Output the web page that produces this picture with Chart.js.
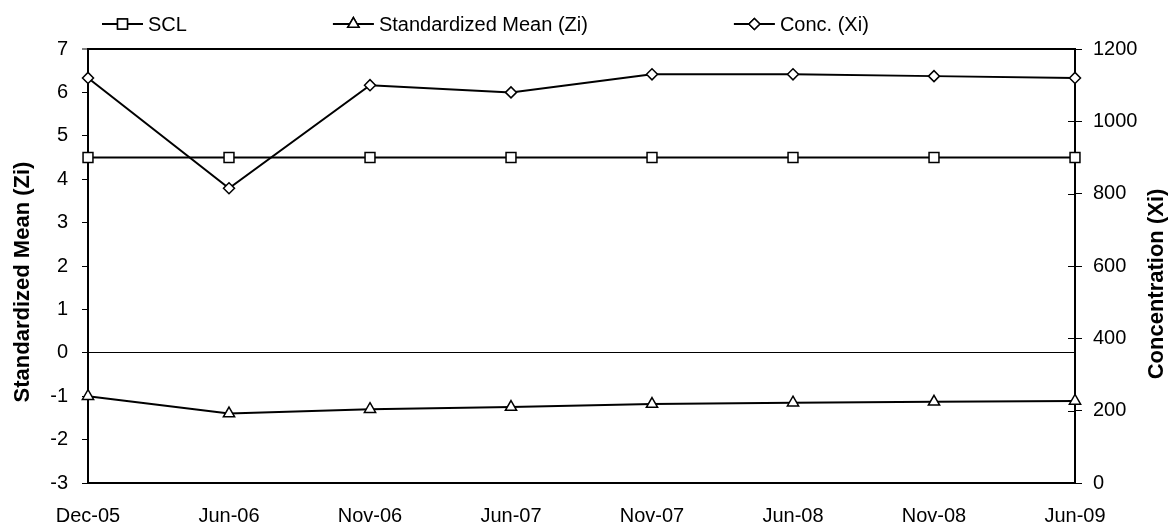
<!DOCTYPE html>
<html>
<head>
<meta charset="utf-8">
<script src="https://cdn.jsdelivr.net/npm/chart.js@4/dist/chart.umd.min.js"></script>
<style>
  html, body { margin: 0; padding: 0; background: #fff; }
  #wrap { width: 1175px; height: 529px; position: relative; }
</style>
</head>
<body>
<div id="wrap"><canvas id="c"></canvas></div>
<script>
const categories = ['Dec-05', 'Jun-06', 'Nov-06', 'Jun-07', 'Nov-07', 'Jun-08', 'Nov-08', 'Jun-09'];
const sclValues = [4.5, 4.5, 4.5, 4.5, 4.5, 4.5, 4.5, 4.5];
const ziValues = [-1.0, -1.4, -1.3, -1.25, -1.18, -1.15, -1.13, -1.11];
const xiValues = [1120, 815, 1100, 1080, 1130, 1130, 1125, 1120];
const leftAxisRange = [-3, 7];
const rightAxisRange = [0, 1200];
const seriesNames = ['SCL', 'Standardized Mean (Zi)', 'Conc. (Xi)'];
const axisTitles = ['Standardized Mean (Zi)', 'Concentration (Xi)'];

const FONT = '"Liberation Sans", Arial, Helvetica, sans-serif';

const legendPlugin = {
  id: 'lineLegend',
  afterDraw(chart) {
    const ctx = chart.ctx;
    ctx.save();
    ctx.font = '20px ' + FONT;
    ctx.textBaseline = 'middle';
    ctx.fillStyle = '#000';
    let x = 102;
    const y = 24;
    chart.data.datasets.forEach(ds => {
      ctx.strokeStyle = '#000';
      ctx.lineWidth = 2;
      ctx.beginPath();
      ctx.moveTo(x, y);
      ctx.lineTo(x + 41, y);
      ctx.stroke();
      ctx.fillStyle = '#fff';
      ctx.lineWidth = ds.pointBorderWidth;
      Chart.helpers.drawPoint(ctx, {pointStyle: ds.pointStyle, radius: ds.pointRadius, borderWidth: ds.pointBorderWidth, rotation: 0}, x + 20.5, y);
      ctx.fill();
      ctx.stroke();
      ctx.fillStyle = '#000';
      ctx.fillText(ds.label, x + 46, y + 1);
      x += 46 + ctx.measureText(ds.label).width + 146;
    });
    ctx.restore();
  }
};

const axisDecorPlugin = {
  id: 'axisDecor',
  afterDraw(chart) {
    const ctx = chart.ctx;
    const area = chart.chartArea;
    const y2 = chart.scales.y2;
    ctx.save();
    // inner half of right-axis tick marks (ticks cross the axis)
    ctx.strokeStyle = '#000';
    ctx.lineWidth = 1;
    y2.ticks.forEach(t => {
      const py = Math.round(y2.getPixelForValue(t.value)) + 0.5;
      ctx.beginPath();
      ctx.moveTo(area.right - 7, py);
      ctx.lineTo(area.right, py);
      ctx.stroke();
    });
    // axis titles
    ctx.fillStyle = '#000';
    ctx.font = 'bold 22px ' + FONT;
    ctx.textAlign = 'center';
    ctx.textBaseline = 'middle';
    const cy = (area.top + area.bottom) / 2 + 16;
    ctx.save();
    ctx.translate(23, cy);
    ctx.rotate(-Math.PI / 2);
    ctx.fillText(axisTitles[0], 0, 0);
    ctx.restore();
    ctx.save();
    ctx.translate(1157, cy + 2);
    ctx.rotate(-Math.PI / 2);
    ctx.fillText(axisTitles[1], 0, 0);
    ctx.restore();
    ctx.restore();
  }
};

const common = {
  borderColor: '#000',
  borderWidth: 2,
  pointBackgroundColor: '#fff',
  pointBorderColor: '#000',
  pointBorderWidth: 1.5,
  pointHoverRadius: 6,
  tension: 0,
  clip: false,
  fill: false
};

new Chart(document.getElementById('c'), {
  type: 'line',
  data: {
    labels: categories,
    datasets: [
      Object.assign({}, common, { label: seriesNames[0], data: sclValues, yAxisID: 'y', pointStyle: 'rect', pointRadius: 7 }),
      Object.assign({}, common, { label: seriesNames[1], data: ziValues, yAxisID: 'y', pointStyle: 'triangle', pointRadius: 6.5 }),
      Object.assign({}, common, { label: seriesNames[2], data: xiValues, yAxisID: 'y2', pointStyle: 'rectRot', pointRadius: 5.5 })
    ]
  },
  options: {
    responsive: true,
    maintainAspectRatio: false,
    animation: false,
    layout: { padding: { top: 49, left: 0, right: 0, bottom: 0 } },
    plugins: { legend: { display: false }, tooltip: { enabled: false } },
    scales: {
      x: {
        type: 'category',
        offset: false,
        grid: { display: false, drawTicks: false },
        border: { display: true, color: '#000', width: 2 },
        ticks: { color: '#000', font: { family: FONT, size: 20 }, padding: 21, maxRotation: 0, autoSkip: false },
        afterFit(s) { s.height = 46; }
      },
      y: {
        position: 'left',
        min: leftAxisRange[0],
        max: leftAxisRange[1],
        ticks: { stepSize: 1, color: '#000', font: { family: FONT, size: 20 }, padding: 14 },
        grid: {
          drawOnChartArea: true,
          drawTicks: true,
          tickLength: 6,
          color: c => (c.tick && (c.tick.value === 0 || c.tick.value === leftAxisRange[1])) ? '#000' : 'rgba(0,0,0,0)',
          lineWidth: c => (c.tick && c.tick.value === leftAxisRange[1]) ? 2 : 1,
          tickColor: '#000',
          tickWidth: 1
        },
        border: { display: true, color: '#000', width: 2 },
        afterFit(s) { s.width = 88; }
      },
      y2: {
        position: 'right',
        min: rightAxisRange[0],
        max: rightAxisRange[1],
        ticks: { stepSize: 200, color: '#000', font: { family: FONT, size: 20 }, padding: 11, callback: v => String(v) },
        grid: { drawOnChartArea: false, drawTicks: true, tickLength: 7, tickColor: '#000', tickWidth: 1 },
        border: { display: true, color: '#000', width: 2 },
        afterFit(s) { s.width = 100; }
      }
    }
  },
  plugins: [legendPlugin, axisDecorPlugin]
});
</script>
</body>
</html>
